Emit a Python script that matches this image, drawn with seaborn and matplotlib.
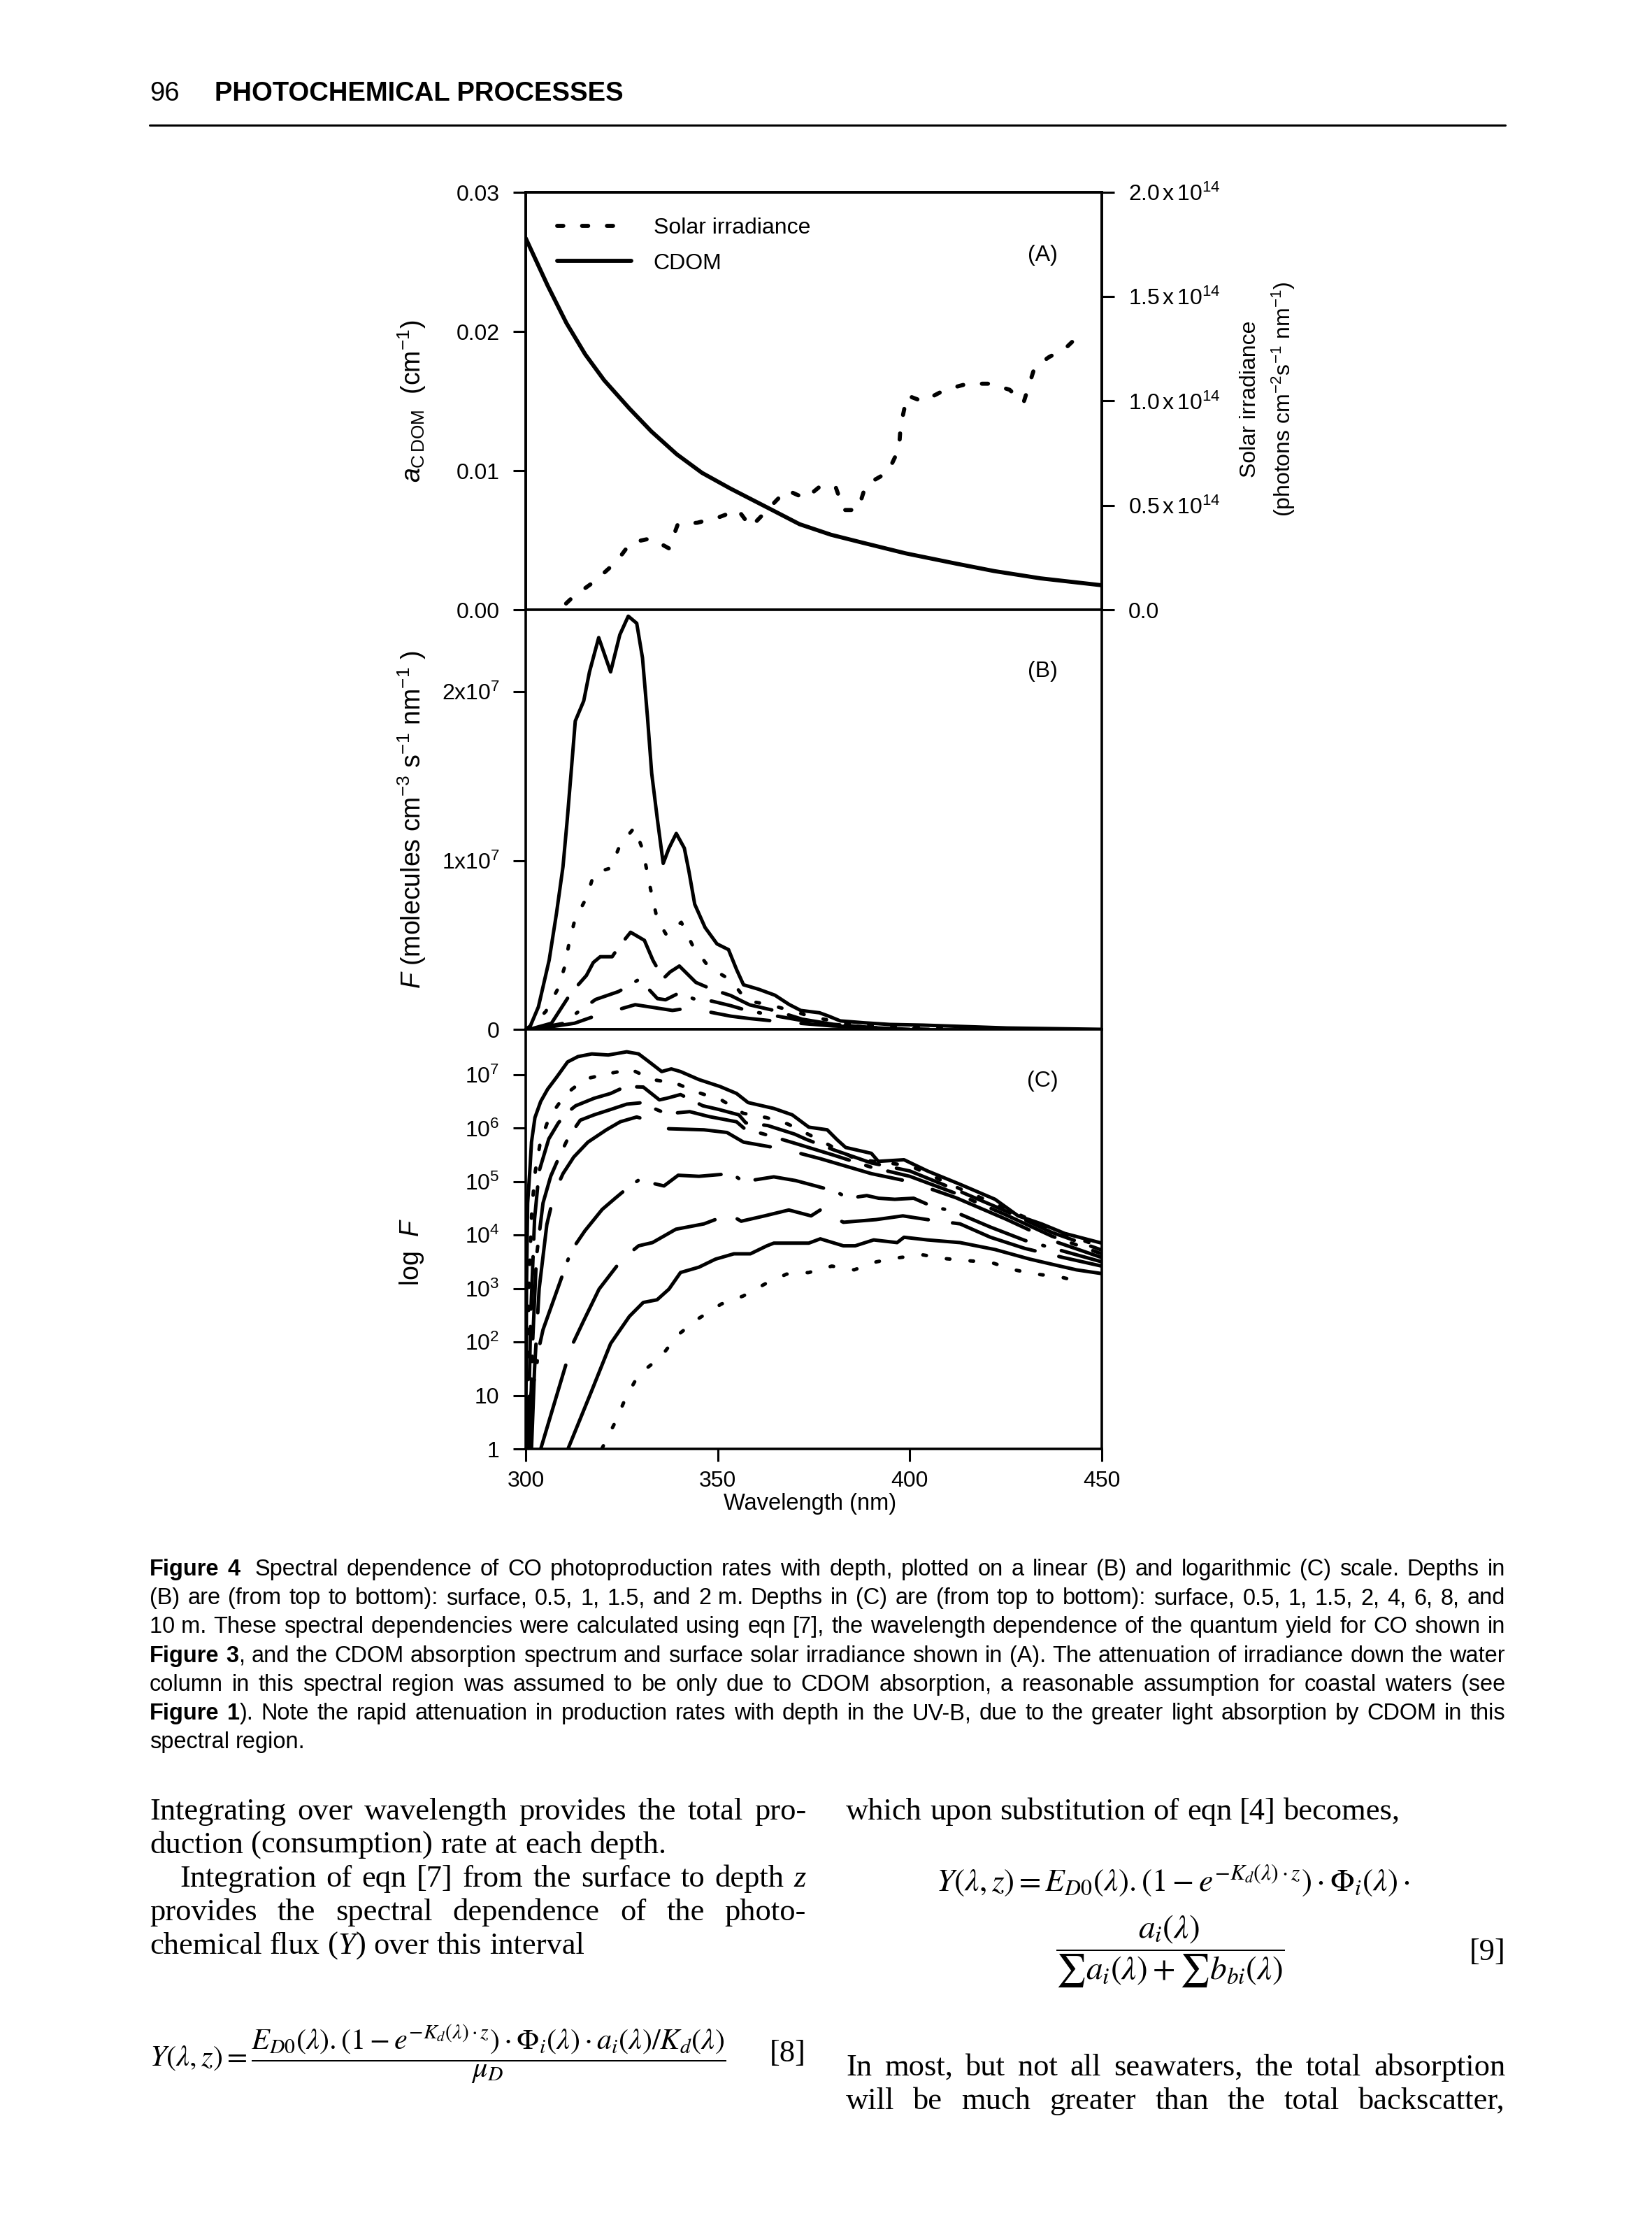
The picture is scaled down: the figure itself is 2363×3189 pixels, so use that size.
import re
import matplotlib
matplotlib.use("Agg")
import matplotlib.pyplot as plt
from matplotlib.lines import Line2D
from matplotlib.ticker import NullLocator
import seaborn as sns
import numpy as np
import pandas as pd

W, H = 2363, 3189

# ---------------- values ----------------
# (A) CDOM absorption (cm^-1) and surface solar irradiance (x1e14 photons cm-2 s-1 nm-1)
cdom_wl = [300, 305.7, 310.6, 315.5, 320.4, 327.0, 332.7, 339.3, 345.9, 353.3,
           363.1, 371.3, 379.5, 387.7, 399.0, 412.0, 422.0, 434.0, 450.0]
cdom_abs = [0.0267, 0.0233, 0.0206, 0.01835, 0.0165, 0.01446, 0.01282, 0.01118, 0.00984, 0.00871,
            0.00732, 0.00615, 0.00539, 0.00482, 0.00405, 0.00332, 0.00278, 0.00226, 0.00176]

solar_wl = [310.5, 312.3, 318.0, 323.7, 327.3, 332.6, 337.3, 339.6, 344.7, 350.4,
            355.3, 358.6, 367.9, 372.8, 376.9, 380.7, 382.8, 386.5, 388.5, 391.0,
            394.3, 397.2, 397.6, 399.3, 403.4, 409.2, 415.1, 420.9, 426.0, 429.6,
            432.5, 436.2, 440.5, 444.9]
solar_irr = [0.03, 0.0615, 0.137, 0.232, 0.321, 0.342, 0.294, 0.410, 0.417, 0.444,
             0.478, 0.396, 0.574, 0.533, 0.595, 0.588, 0.478, 0.478, 0.595, 0.624,
             0.659, 0.772, 0.877, 1.027, 0.998, 1.054, 1.083, 1.083, 1.054, 0.991,
             1.161, 1.21, 1.252, 1.33]

# (B) CO photoproduction, linear scale (x1e7 molecules cm-3 s-1 nm-1)
b_surf_wl = [300, 301.2, 303.3, 306.1, 308.0, 309.7, 310.8, 311.8, 312.9, 315.1, 316.6, 319.0,
             322.1, 324.5, 326.7, 328.9, 330.4, 331.7, 332.8, 334.3, 335.8, 337.3, 339.2, 341.3,
             342.5, 344.0, 346.7, 349.8, 352.8, 354.9, 356.7, 360.7, 364.9, 368.6, 371.6, 376.5,
             378.9, 381.9, 388.0, 394.7, 403.4, 425.3, 450]
b_surf = [0, 0.02, 0.133, 0.41, 0.686, 0.963, 1.24, 1.516, 1.826, 1.945, 2.117, 2.32,
          2.117, 2.337, 2.447, 2.405, 2.2, 1.85, 1.516, 1.24, 0.983, 1.073, 1.16, 1.073,
          0.935, 0.741, 0.603, 0.506, 0.472, 0.354, 0.264, 0.237, 0.202, 0.147, 0.112, 0.098,
          0.078, 0.05, 0.039, 0.029, 0.025, 0.008, 0.0]
b_05_wl = [300.5, 305.2, 308.4, 310.2, 311.3, 312.8, 315.9, 317.8, 322.2, 324.5, 328.3, 330.5,
           331.7, 332.9, 334.3, 336.7, 340.5, 343.4, 347.7, 353.4, 357.5, 363.4, 369.2, 375.2,
           385, 400, 420]
b_05 = [0, 0.105, 0.241, 0.375, 0.513, 0.65, 0.783, 0.924, 0.956, 1.09, 1.195, 1.062,
        0.921, 0.786, 0.647, 0.557, 0.634, 0.499, 0.368, 0.292, 0.17, 0.146, 0.11, 0.07,
        0.03, 0.012, 0.003]
b_1_wl = [301.0, 306.7, 311.8, 315.8, 317.6, 319.4, 322.5, 324.3, 327.3, 330.9, 333.1, 335.8,
          337.6, 340.0, 344.3, 348.5, 353.4, 356.4, 358.3, 365, 372, 380, 390, 400]
b_1 = [0, 0.036, 0.216, 0.319, 0.396, 0.43, 0.43, 0.49, 0.575, 0.527, 0.41, 0.3,
       0.34, 0.375, 0.278, 0.237, 0.2, 0.166, 0.145, 0.11, 0.06, 0.03, 0.01, 0.0]
b_15_wl = [301.5, 310.0, 312.1, 318.2, 324.2, 329.6, 334.3, 336.4, 340.0, 343.7, 348.5, 353.4,
           357.6, 365, 375, 390, 405]
b_15 = [0, 0.036, 0.078, 0.177, 0.224, 0.297, 0.182, 0.175, 0.216, 0.181, 0.167, 0.14,
        0.112, 0.08, 0.04, 0.01, 0.0]
b_2_wl = [302, 312.7, 318.2, 321.2, 328.5, 338.2, 342.5, 353.4, 358.3, 367.4, 380, 395]
b_2 = [0, 0.036, 0.08, 0.098, 0.146, 0.112, 0.126, 0.078, 0.064, 0.043, 0.02, 0.005]

# (C) same rates, log10 scale
c_surf_wl = [300.0, 300.2, 300.5, 301.15, 301.5, 302.4, 303.9, 305.7, 308.1, 310.9, 313.6, 317.2,
             321.5, 326.3, 329.4, 331.8, 335.4, 337.9, 340.3, 345.1, 350.6, 354.9, 357.9, 364.6,
             369.4, 373.7, 378.5, 381.0, 383.3, 390.0, 391.8, 398.5, 404.6, 413.1, 422.2, 428.2,
             434.3, 440.4, 450]
c_surf = [0.0, 3.0, 4.6, 5.3, 5.74, 6.2, 6.5, 6.73, 6.96, 7.24, 7.34, 7.39,
          7.37, 7.43, 7.39, 7.26, 7.06, 7.11, 7.06, 6.91, 6.78, 6.65, 6.48, 6.37,
          6.25, 6.02, 5.97, 5.79, 5.64, 5.53, 5.38, 5.41, 5.20, 4.95, 4.67, 4.36,
          4.21, 4.03, 3.85]
c_05_wl = [300.3, 300.8, 301.6, 302.5, 303.8, 306.1, 310.3, 315.4, 321.4, 327.4, 333.0, 339.1,
           344.8, 350.9, 356.6, 362.6, 368.2, 374.6, 386.0, 400, 412, 425, 437, 450]
c_05 = [0, 3.0, 4.5, 5.2, 5.74, 6.2, 6.63, 6.92, 7.02, 7.10, 6.91, 6.84,
        6.67, 6.53, 6.28, 6.2, 6.08, 5.85, 5.42, 5.3, 4.9, 4.5, 4.1, 3.78]
c_1_wl = [300.6, 301.3, 302.3, 303.5, 306.0, 308.5, 310.9, 313.0, 317.8, 322.1, 326.0, 330.6,
          334.8, 336.7, 340.3, 346.1, 350.3, 355.5, 357.3, 363.0, 370.0, 373.1, 380, 390,
          400, 412, 425, 437, 450]
c_1 = [0, 2.5, 4.3, 5.2, 5.8, 6.1, 6.30, 6.42, 6.56, 6.65, 6.78, 6.77,
       6.53, 6.56, 6.63, 6.42, 6.35, 6.25, 6.10, 6.05, 5.89, 5.79, 5.6, 5.35,
       5.2, 4.85, 4.45, 4.05, 3.72]
c_15_wl = [301.0, 301.8, 302.8, 304.5, 306.5, 308.8, 311.2, 314.2, 317.8, 322.1, 326.3, 330.6,
           332.4, 336.7, 342.7, 347.6, 354.9, 357.0, 363.0, 370, 380, 390, 400, 412,
           425, 437, 450]
c_15 = [0, 2.0, 3.6, 4.6, 5.1, 5.48, 5.84, 6.15, 6.25, 6.35, 6.45, 6.48,
        6.40, 6.27, 6.31, 6.22, 6.12, 5.99, 5.87, 5.72, 5.5, 5.27, 5.1, 4.78,
        4.38, 3.98, 3.65]
c_2_wl = [301.5, 302.3, 303.5, 305.5, 307.5, 309.7, 312.5, 316.2, 321.0, 324.6, 328.9, 331.9,
          334.3, 337.3, 346.4, 352.4, 356.7, 364.6, 368.2, 376.7, 390, 400, 412, 425,
          437, 450]
c_2 = [0, 1.5, 3.0, 4.2, 4.8, 5.15, 5.46, 5.74, 5.97, 6.12, 6.21, 6.15,
       6.02, 5.99, 5.97, 5.92, 5.74, 5.64, 5.59, 5.43, 5.15, 5.0, 4.7, 4.3,
       3.9, 3.58]
c_4_wl = [300.3, 300.55, 302.7, 303.3, 304.5, 311.8, 315.4, 319.9, 323.3, 326.3, 329.4, 334.2,
          336.0, 339.7, 345.1, 350.0, 353.6, 356.7, 364.6, 370.3, 375.5, 380.6, 384.0, 388.8,
          391.9, 396.1, 401.0, 406.1, 411.2, 421, 430, 440, 450]
c_4 = [0, 0.75, 1.46, 1.84, 2.23, 3.70, 4.08, 4.48, 4.69, 4.87, 5.03, 4.95,
       4.92, 5.12, 5.10, 5.13, 5.15, 5.0, 5.09, 5.02, 4.92, 4.82, 4.69, 4.74,
       4.69, 4.67, 4.69, 4.53, 4.45, 4.15, 3.9, 3.7, 3.5]
c_6_wl = [303.9, 311.8, 315.1, 319.1, 325.1, 329.4, 333.0, 339.1, 346.4, 353.0, 356.1, 362.2,
          368.5, 374.3, 376.7, 382.7, 391.2, 398.2, 404.6, 413.1, 421, 430, 440, 450]
c_6 = [0, 1.9, 2.4, 2.99, 3.55, 3.80, 3.86, 4.11, 4.21, 4.39, 4.26, 4.36,
       4.47, 4.36, 4.47, 4.24, 4.29, 4.36, 4.29, 4.21, 3.96, 3.75, 3.58, 3.42]
c_8_wl = [311.0, 317.3, 322.1, 327.0, 330.6, 334.2, 337.3, 340.3, 345.1, 349.4, 354.2, 358.5,
          362.8, 364.6, 373.7, 376.7, 382.7, 385.8, 390.6, 396.7, 398.5, 404.6, 413.1, 422.2,
          431.3, 437.3, 443.4, 450]
c_8 = [0, 1.11, 1.97, 2.48, 2.74, 2.79, 2.99, 3.30, 3.40, 3.55, 3.65, 3.65,
       3.80, 3.85, 3.85, 3.93, 3.80, 3.80, 3.91, 3.86, 3.96, 3.91, 3.86, 3.73,
       3.55, 3.45, 3.35, 3.28]
c_10_wl = [319.8, 323.3, 326.0, 329.4, 335.2, 339.4, 344.8, 350.9, 356.6, 362.4, 367.9, 373.7,
           379.7, 385.5, 391.3, 397.4, 403.4, 409.2, 415.3, 421.1, 427.2, 432.9, 439.0, 444.8]
c_10 = [0.0, 0.50, 0.95, 1.39, 1.72, 2.12, 2.43, 2.71, 2.86, 3.09, 3.27, 3.30,
        3.42, 3.35, 3.50, 3.58, 3.63, 3.56, 3.52, 3.49, 3.35, 3.27, 3.22, 3.12]

wl_ticks = [300, 350, 400, 450]
a_left_ticks = [0.0, 0.01, 0.02, 0.03]
a_left_labels = ["0.00", "0.01", "0.02", "0.03"]
a_right_ticks = [0.0, 0.5e14, 1.0e14, 1.5e14, 2.0e14]
a_right_labels = ["0.0", r"$0.5\,\mathrm{x}\,10^{14}$", r"$1.0\,\mathrm{x}\,10^{14}$",
                  r"$1.5\,\mathrm{x}\,10^{14}$", r"$2.0\,\mathrm{x}\,10^{14}$"]
b_ticks = [0, 1e7, 2e7]
b_labels = ["0", r"1x10$^{7}$", r"2x10$^{7}$"]
c_ticks = [1, 10, 1e2, 1e3, 1e4, 1e5, 1e6, 1e7]
c_labels = ["1", "10"] + [r"10$^{%d}$" % k for k in range(2, 8)]

header_num = "96"
header_title = "PHOTOCHEMICAL PROCESSES"
caption_lines = [
    "**Figure 4** ~Spectral dependence of CO photoproduction rates with depth, plotted on a linear (B) and logarithmic (C) scale. Depths in",
    "(B) are (from top to bottom): surface, 0.5, 1, 1.5, and 2\u00a0m. Depths in (C) are (from top to bottom): surface, 0.5, 1, 1.5, 2, 4, 6, 8, and",
    "10\u00a0m. These spectral dependencies were calculated using eqn [7], the wavelength dependence of the quantum yield for CO shown in",
    "**Figure 3**, and the CDOM absorption spectrum and surface solar irradiance shown in (A). The attenuation of irradiance down the water",
    "column in this spectral region was assumed to be only due to CDOM absorption, a reasonable assumption for coastal waters (see",
    "**Figure 1**). Note the rapid attenuation in production rates with depth in the UV-B, due to the greater light absorption by CDOM in this",
    "spectral region.",
]
left_col = [
    ("Integrating over wavelength provides the total pro-", True, 0),
    ("duction (consumption) rate at each depth.", False, 0),
    ("Integration of eqn [7] from the surface to depth __z__", True, 43),
    ("provides the spectral dependence of the photo-", True, 0),
    ("chemical flux (__Y__) over this interval", False, 0),
]
right_col_top = ("which upon substitution of eqn [4] becomes,", False, 0)
right_col_bottom = [
    ("In most, but not all seawaters, the total absorption", True, 0),
    ("will be much greater than the total backscatter,", True, 0),
]

# ---------------- style ----------------
sns.set_theme(style="ticks")
plt.rcParams.update({
    "font.family": ["Liberation Sans", "DejaVu Sans"],
    "mathtext.fontset": "custom",
    "mathtext.rm": "Liberation Sans",
    "mathtext.it": "Liberation Sans:italic",
    "mathtext.bf": "Liberation Sans:bold",
    "axes.linewidth": 2.6,
    "axes.edgecolor": "black",
    "axes.labelcolor": "black",
    "text.color": "black",
    "xtick.color": "black",
    "ytick.color": "black",
    "axes.facecolor": "white",
    "figure.facecolor": "white",
})

fig = plt.figure(figsize=((W + 0.01) / 100, (H + 0.01) / 100), dpi=100)
renderer = fig.canvas.get_renderer()


def box(x0, y0, x1, y1):
    return [x0 / W, 1 - y1 / H, (x1 - x0) / W, (y1 - y0) / H]


def draw(ax, wl, vals, ls, lw=3.6):
    df = pd.DataFrame({"wl": wl, "val": vals})
    sns.lineplot(data=df, x="wl", y="val", ax=ax, color="black", linewidth=lw,
                 linestyle=ls, estimator=None, sort=False, legend=False)
    line = ax.lines[-1]
    line.set_dash_capstyle("round")
    line.set_solid_capstyle("round")
    line.set_solid_joinstyle("round")
    return line


tick_kw = dict(direction="out", length=13, width=2.2, labelsize=23, pad=14, colors="black")
DOT = (0, (1.2, 5.4))

# ---------------- (A) ----------------
ax_a = fig.add_axes(box(752, 275, 1576, 872))
cdom_line = draw(ax_a, cdom_wl, cdom_abs, "-", lw=4.2)
ax_a.set_xlim(300, 450)
ax_a.set_ylim(0, 0.03)
ax_a.set_yticks(a_left_ticks, a_left_labels)
ax_a.tick_params(axis="y", left=True, right=False, **tick_kw)
ax_a.tick_params(axis="x", bottom=False, labelbottom=False)
ax_a.set_xlabel("")
ax_a.set_ylabel(r"$a_{\mathrm{C\,DOM}}$  (cm$^{-1}$)", fontsize=27, va="center")
ax_a.yaxis.set_label_coords(-0.198, 0.5)

ax_s = ax_a.twinx()
solar_line = draw(ax_s, solar_wl, np.array(solar_irr) * 1e14, (0, (1.5, 4.6)), lw=4.2)
ax_s.set_ylim(0, 2.0e14)
ax_s.set_yticks(a_right_ticks, a_right_labels)
ax_s.tick_params(axis="y", right=True, left=False, labelright=True, **tick_kw)
ax_s.set_xlabel("")
ax_s.set_ylabel("Solar irradiance\n(photons cm$^{-2}$s$^{-1}$ nm$^{-1}$)", fontsize=23,
                rotation=90, va="center", ha="center", linespacing=1.45)
ax_s.yaxis.set_label_coords(1.289, 0.505)
ax_s.legend([solar_line, cdom_line], ["Solar irradiance", "CDOM"], loc="upper left",
            bbox_to_anchor=(0.055, 0.94), frameon=False, fontsize=23, handlelength=3.3,
            handletextpad=1.0, labelspacing=0.65, borderpad=0, borderaxespad=0)
ax_a.text(0.897, 0.85, "(A)", transform=ax_a.transAxes, ha="center", va="center", fontsize=23)

# ---------------- (B) ----------------
ax_b = fig.add_axes(box(752, 872, 1576, 1472))
draw(ax_b, b_surf_wl, np.array(b_surf) * 1e7, "-")
draw(ax_b, b_05_wl, np.array(b_05) * 1e7, (0, (1.0, 5.6)))
draw(ax_b, b_1_wl, np.array(b_1) * 1e7, (0, (15, 5)))
draw(ax_b, b_15_wl, np.array(b_15) * 1e7, (0, (9, 5, 0.5, 5)))
draw(ax_b, b_2_wl, np.array(b_2) * 1e7, (0, (17, 9)))
ax_b.set_xlim(300, 450)
ax_b.set_ylim(0, 2.485e7)
ax_b.set_yticks(b_ticks, b_labels)
ax_b.tick_params(axis="y", left=True, right=False, **tick_kw)
ax_b.tick_params(axis="x", bottom=False, labelbottom=False)
ax_b.set_xlabel("")
ax_b.set_ylabel(r"$F$ (molecules cm$^{-3}$ s$^{-1}$ nm$^{-1}$ )", fontsize=27, va="center")
ax_b.yaxis.set_label_coords(-0.198, 0.5)
ax_b.text(0.897, 0.853, "(B)", transform=ax_b.transAxes, ha="center", va="center", fontsize=23)

# ---------------- (C) ----------------
ax_c = fig.add_axes(box(752, 1472, 1576, 2072))
c_series = [
    (c_surf_wl, c_surf, "-"),
    (c_05_wl, c_05, DOT),
    (c_1_wl, c_1, (0, (15, 5))),
    (c_15_wl, c_15, (0, (20, 5, 1.5, 5))),
    (c_2_wl, c_2, (0, (30, 9))),
    (c_4_wl, c_4, (0, (20, 5, 0.5, 5))),
    (c_6_wl, c_6, (0, (25, 7))),
    (c_8_wl, c_8, "-"),
    (c_10_wl, c_10, (0, (1.0, 5.8))),
]
for wl, logf, ls in c_series:
    draw(ax_c, wl, np.power(10.0, logf), ls)
ax_c.set_yscale("log")
ax_c.set_xlim(300, 450)
ax_c.set_ylim(1, 10 ** 7.85)
ax_c.set_yticks(c_ticks, c_labels)
ax_c.yaxis.set_minor_locator(NullLocator())
ax_c.set_xticks(wl_ticks, [str(t) for t in wl_ticks])
ax_c.tick_params(axis="y", left=True, right=False, **tick_kw)
ax_c.tick_params(axis="x", bottom=True, top=False, direction="out", length=13, width=2.2,
                 labelsize=23, pad=9, colors="black")
ax_c.set_ylabel(r"log  $F$", fontsize=27, va="center")
ax_c.yaxis.set_label_coords(-0.198, 0.47)
ax_c.set_xlabel("Wavelength (nm)", fontsize=23.5, va="center")
ax_c.xaxis.set_label_coords(0.493, -0.13)
ax_c.text(0.897, 0.877, "(C)", transform=ax_c.transAxes, ha="center", va="center", fontsize=23)

# ---------------- page text ----------------
SANS = "Liberation Sans"
SERIF = "Liberation Serif"


def measure(s, size, family, props=None):
    t = fig.text(0, 0, s, fontsize=size, family=family, **(props or {}))
    w = t.get_window_extent(renderer).width
    t.remove()
    return w


def parse_words(line):
    words = []
    bold = italic = False
    for raw in line.split(" "):
        if not raw:
            continue
        extra = 0.0
        if raw.startswith("~"):
            extra, raw = 1.0, raw[1:]
        segs = []
        for part in re.split(r"(\*\*|__)", raw):
            if part == "**":
                bold = not bold
            elif part == "__":
                italic = not italic
            elif part:
                segs.append((part, {"weight": "bold" if bold else "normal",
                                    "style": "italic" if italic else "normal"}))
        words.append((segs, extra))
    return words


def natural_width(line, size, family, indent=0):
    words = parse_words(line)
    space = measure("n n", size, family) - measure("nn", size, family)
    tot = sum(measure(t, size, family, p) for segs, _ in words for t, p in segs)
    return indent + tot + space * (len(words) - 1 + sum(e for _, e in words))


def place_line(line, x0, x1, y, size, family, justify=True, indent=0):
    words = parse_words(line)
    space = measure("n n", size, family) - measure("nn", size, family)
    widths = [[measure(t, size, family, p) for t, p in segs] for segs, _ in words]
    total = sum(sum(w) for w in widths) + space * sum(e for _, e in words)
    n = len(words)
    gap = (x1 - x0 - indent - total) / (n - 1) if (justify and n > 1) else space
    x = x0 + indent
    for (segs, extra), ws in zip(words, widths):
        x += extra * space
        for (t, p), w in zip(segs, ws):
            fig.text(x / W, 1 - y / H, t, fontsize=size, family=family, ha="left",
                     va="baseline", **p)
            x += w
        x += gap


# running head
fig.text(214 / W, 1 - 144 / H, header_num, fontsize=27.5, family=SANS, va="baseline")
fig.text(307 / W, 1 - 144 / H, header_title, fontsize=27.5, family=SANS, weight="bold",
         va="baseline")
fig.add_artist(Line2D([214 / W, 2153 / W], [1 - 179 / H, 1 - 179 / H], color="black", lw=2.2))

# caption (justified)
CX0, CX1 = 214, 2153
cap_size = 27.0
fit = min((CX1 - CX0) / natural_width(l, cap_size, SANS) for l in caption_lines[:-1])
if fit < 1.0:
    cap_size *= fit * 0.995
for i, line in enumerate(caption_lines):
    place_line(line, CX0, CX1, 2253 + 41.2 * i, cap_size, SANS,
               justify=i < len(caption_lines) - 1)

# body text, two columns
LX0, LX1, RX0, RX1 = 214, 1153, 1210, 2153
body = 33.0
checks = [(l, LX1 - LX0, ind) for l, j, ind in left_col if j]
checks += [(l, RX1 - RX0, ind) for l, j, ind in right_col_bottom if j]
fit = min(cw / natural_width(l, body, SERIF, ind) for l, cw, ind in checks)
if fit < 1.0:
    body *= fit * 0.97
for i, (line, just, ind) in enumerate(left_col):
    place_line(line, LX0, LX1, 2602 + 48 * i, body, SERIF, justify=just, indent=ind)
place_line(right_col_top[0], RX0, RX1, 2602, body, SERIF, justify=False)
for i, (line, just, ind) in enumerate(right_col_bottom):
    place_line(line, RX0, RX1, 2968 + 48 * i, body, SERIF, justify=just, indent=ind)


def fit_math(s, target, base=26.0):
    w = measure(s, base, SERIF, {"math_fontfamily": "stix"})
    return min(base * target / w, 34.0)


eq8 = (r"$Y(\lambda,z) = \dfrac{E_{D0}(\lambda).\left(1-e^{-K_d(\lambda)\cdot z}\right)"
       r"\cdot\Phi_i(\lambda)\cdot a_i(\lambda)/K_d(\lambda)}{\mu_D}$")
fig.text(214 / W, 1 - 2938 / H, eq8, fontsize=fit_math(eq8, 826), family=SERIF,
         math_fontfamily="stix", ha="left", va="center")
fig.text(1153 / W, 1 - 2948 / H, "[8]", fontsize=body, family=SERIF, ha="right", va="baseline")

eq9a = r"$Y(\lambda,z) = E_{D0}(\lambda).\left(1-e^{-K_d(\lambda)\cdot z}\right)\cdot\Phi_i(\lambda)\cdot$"
fig.text(1339 / W, 1 - 2689 / H, eq9a, fontsize=fit_math(eq9a, 679), family=SERIF,
         math_fontfamily="stix", ha="left", va="center")
eq9b = r"$\dfrac{a_i(\lambda)}{\sum a_i(\lambda)+\sum b_{bi}(\lambda)}$"
fig.text(1674 / W, 1 - 2791 / H, eq9b, fontsize=fit_math(eq9b, 345), family=SERIF,
         math_fontfamily="stix", ha="center", va="center")
fig.text(2153 / W, 1 - 2803 / H, "[9]", fontsize=body, family=SERIF, ha="right", va="baseline")

fig.savefig("out.png", dpi=100, facecolor="white")
